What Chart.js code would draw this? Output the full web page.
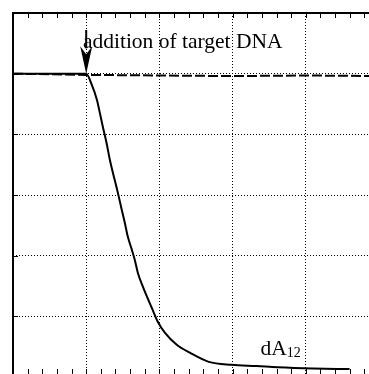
<!DOCTYPE html>
<html>
<head>
<meta charset="utf-8">
<script src="https://cdn.jsdelivr.net/npm/chart.js@4/dist/chart.umd.min.js"></script>
<style>
    html, body { margin: 0; padding: 0; background: #fff; overflow: hidden; }
    #chart { display: block; }
</style>
</head>
<body>
<canvas id="chart" width="369" height="374"></canvas>
<script>
// axis ranges (no tick labels visible in the crop)
const xMajorTicks = [0, 1, 2, 3, 4, 5];
const yMajorTicks = [0, 1, 2, 3, 4, 5, 6];
const minorPerMajor = 5;

// dA12 signal, drops after adding target DNA
const timeSignal = [0, 1.0, 1.078, 1.146, 1.187, 1.228, 1.276, 1.323, 1.364, 1.426, 1.487, 1.528,
    1.569, 1.623, 1.664, 1.705, 1.774, 1.896, 1.978, 2.074, 2.237, 2.415, 2.674, 2.988, 3.329,
    3.615, 4.093, 4.598];
const dA12 = [5.0, 5.0, 4.81, 4.57, 4.35, 4.12, 3.87, 3.58, 3.37, 3.07, 2.75, 2.54,
    2.31, 2.10, 1.93, 1.72, 1.49, 1.14, 0.91, 0.73, 0.53, 0.40, 0.25, 0.20, 0.18,
    0.16, 0.14, 0.13];

// reference (dashed) signal stays flat
const timeRef = [0, 1, 2, 3, 4, 5];
const dARef = [5.0, 4.98, 4.97, 4.96, 4.97, 4.96];

const toPoints = (xs, ys) => xs.map((x, i) => ({ x: x, y: ys[i] }));

const serif = "'Liberation Serif', 'Times New Roman', serif";

// the plot frame runs past the right and bottom edge of the picture,
// so stretch the chart area a bit after the layout is done
const overflowPlugin = {
    id: 'overflow',
    afterLayout(chart) {
        const a = chart.chartArea;
        a.right = 379;
        a.bottom = 377;
        a.width = a.right - a.left;
        a.height = a.bottom - a.top;
        const xs = chart.scales.x;
        xs.right = a.right;
        xs.width = a.width;
        xs.configure();
        const ys = chart.scales.y;
        ys.bottom = a.bottom;
        ys.height = a.height;
        ys.configure();
    }
};

// frame, inward ticks, arrow and labels
const framePlugin = {
    id: 'frame',
    afterDatasetsDraw(chart) {
        const ctx = chart.ctx;
        const xs = chart.scales.x;
        const ys = chart.scales.y;
        const a = chart.chartArea;
        ctx.save();
        ctx.strokeStyle = '#000';
        ctx.lineWidth = 2;
        ctx.beginPath();
        ctx.moveTo(a.left, a.bottom);
        ctx.lineTo(a.left, a.top);
        ctx.lineTo(a.right, a.top);
        ctx.stroke();

        // x ticks top and bottom (major + minor)
        ctx.lineWidth = 1;
        ctx.beginPath();
        for (let i = 0; i < xMajorTicks.length - 1; i++) {
            const step = (xMajorTicks[i + 1] - xMajorTicks[i]) / minorPerMajor;
            for (let k = 0; k < minorPerMajor; k++) {
                const px = Math.round(xs.getPixelForValue(xMajorTicks[i] + k * step)) + 0.5;
                ctx.moveTo(px, a.top);
                ctx.lineTo(px, a.top + 5);
                ctx.moveTo(px, a.bottom);
                ctx.lineTo(px, a.bottom - 8);
            }
        }
        // y ticks left (major only)
        yMajorTicks.forEach(v => {
            const py = Math.round(ys.getPixelForValue(v)) + 0.5;
            ctx.moveTo(a.left, py);
            ctx.lineTo(a.left + 5, py);
        });
        ctx.stroke();

        // arrow marking the addition
        const ax = xs.getPixelForValue(1);
        const yTip = ys.getPixelForValue(5);
        const yHead = ys.getPixelForValue(5.45);
        const yTail = ys.getPixelForValue(5.72);
        ctx.lineWidth = 2;
        ctx.beginPath();
        ctx.moveTo(ax, yTail);
        ctx.lineTo(ax, yHead + 2);
        ctx.stroke();
        ctx.fillStyle = '#000';
        ctx.beginPath();
        ctx.moveTo(ax - 6, yHead);
        ctx.lineTo(ax, yHead + 8);
        ctx.lineTo(ax + 6, yHead);
        ctx.lineTo(ax, yTip);
        ctx.closePath();
        ctx.fill();

        // labels
        ctx.fillStyle = '#000';
        ctx.textBaseline = 'alphabetic';
        ctx.font = '21.5px ' + serif;
        ctx.fillText('addition of target DNA', xs.getPixelForValue(0.955), ys.getPixelForValue(5.42));
        const lx = xs.getPixelForValue(3.38);
        const ly = ys.getPixelForValue(0.37);
        ctx.fillText('dA', lx, ly);
        const w = ctx.measureText('dA').width;
        ctx.font = '14px ' + serif;
        ctx.fillText('12', lx + w, ly + 2);
        ctx.restore();
    }
};

new Chart(document.getElementById('chart').getContext('2d'), {
    type: 'line',
    data: {
        datasets: [
            {
                label: 'reference',
                data: toPoints(timeRef, dARef),
                borderColor: '#000',
                borderWidth: 2,
                borderDash: [10, 3],
                pointRadius: 0,
                fill: false
            },
            {
                label: 'dA12',
                data: toPoints(timeSignal, dA12),
                borderColor: '#000',
                borderWidth: 2,
                pointRadius: 0,
                cubicInterpolationMode: 'monotone',
                fill: false
            }
        ]
    },
    options: {
        responsive: false,
        animation: false,
        layout: { padding: { left: 13, top: 13, right: 0, bottom: 0 } },
        plugins: { legend: { display: false }, tooltip: { enabled: false } },
        scales: {
            x: {
                type: 'linear',
                min: 0,
                max: 5,
                ticks: { display: false, stepSize: 1 },
                grid: { color: '#000', lineWidth: 1, drawTicks: false },
                border: { display: false, dash: [1, 2] }
            },
            y: {
                type: 'linear',
                min: 0,
                max: 6,
                ticks: { display: false, stepSize: 1 },
                grid: { color: '#000', lineWidth: 1, drawTicks: false },
                border: { display: false, dash: [1, 2] }
            }
        }
    },
    plugins: [overflowPlugin, framePlugin]
});
</script>
</body>
</html>
